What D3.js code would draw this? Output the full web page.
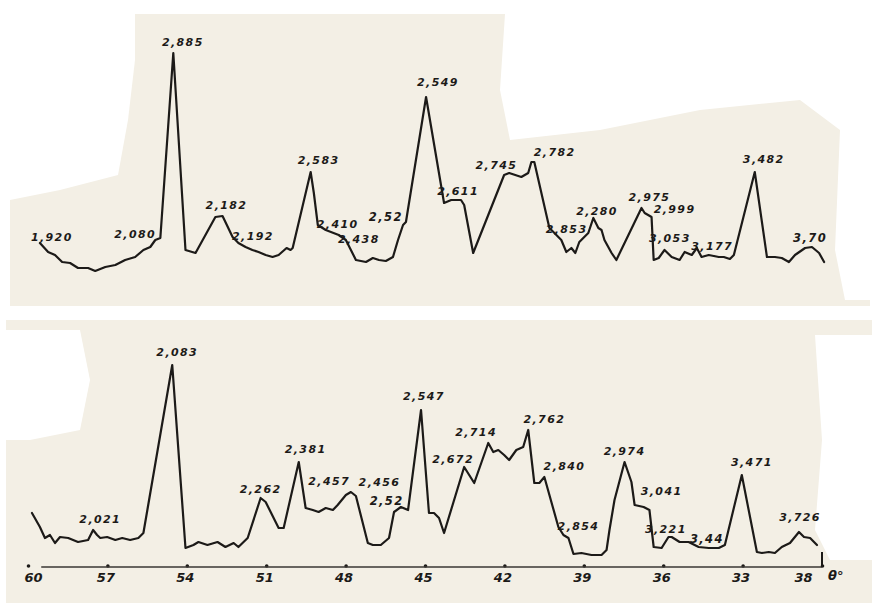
<!DOCTYPE html>
<html>
<head>
<meta charset="utf-8">
<script src="https://cdn.jsdelivr.net/npm/d3@7/dist/d3.min.js"></script>
<style>
  html, body { margin: 0; padding: 0; background: #ffffff; }
  svg { display: block; }
</style>
</head>
<body>
<svg id="chart" width="874" height="603"></svg>
<script>
// ---------- DATA (θ in degrees, intensity in arbitrary units) ----------
const topTheta = [59.55,59.24,58.98,58.71,58.41,58.11,57.73,57.46,57.08,56.70,56.33,55.95,55.64,55.38,55.19,55.00,54.51,54.05,53.67,52.92,52.65,52.27,52.05,51.78,51.52,51.29,51.02,50.76,50.53,50.23,50.08,50.00,49.32,49.20,49.05,48.75,48.26,47.99,47.80,47.61,47.23,46.97,46.74,46.48,46.21,46.02,45.83,45.72,44.96,44.28,44.01,43.64,43.52,43.18,42.01,41.82,41.36,41.10,40.98,40.87,40.30,40.11,39.85,39.66,39.47,39.32,39.17,38.83,38.64,38.45,38.33,38.22,37.95,37.77,36.82,36.70,36.44,36.36,36.17,35.95,35.68,35.38,35.19,34.92,34.73,34.55,34.28,33.90,33.71,33.48,33.33,32.54,32.08,31.78,31.52,31.25,31.02,30.64,30.38,30.11,29.92];
const topIntensity = [37,28,25,18,17,12,12,9,13,15,20,23,30,33,40,42,227,30,27,63,64,43,37,33,30,28,25,23,25,32,30,32,108,87,55,50,45,40,30,20,18,22,20,19,23,40,55,58,183,77,80,80,75,27,105,107,103,107,118,118,52,47,40,28,32,27,38,47,62,52,50,40,27,20,72,67,63,20,22,30,23,20,28,25,32,23,25,23,23,21,25,108,23,23,22,18,25,32,33,27,18];

const bottomTheta = [59.85,59.55,59.36,59.17,58.98,58.79,58.48,58.11,57.73,57.54,57.39,57.27,57.01,56.70,56.44,56.14,55.83,55.64,55.49,54.55,54.05,53.75,53.56,53.22,52.84,52.54,52.23,52.05,51.70,51.21,51.02,50.53,50.34,49.77,49.51,49.24,49.02,48.75,48.48,48.30,47.99,47.80,47.61,47.16,46.97,46.67,46.36,46.17,45.91,45.64,45.15,44.85,44.66,44.47,44.28,43.52,43.14,42.61,42.42,42.23,42.01,41.82,41.55,41.29,41.10,40.87,40.68,40.49,39.96,39.77,39.58,39.39,39.09,38.71,38.33,38.14,38.03,37.84,37.46,37.20,37.08,36.74,36.52,36.36,36.06,35.80,35.68,35.38,35.04,34.66,34.28,33.90,33.67,33.03,32.46,32.27,32.01,31.78,31.52,31.21,30.87,30.68,30.45,30.19];
const bottomIntensity = [52,38,27,30,22,28,27,23,25,35,30,27,28,25,27,25,27,32,55,200,17,20,23,20,23,18,22,18,27,67,63,37,37,103,57,55,53,57,55,60,70,73,69,22,20,20,27,53,58,55,155,52,52,47,32,98,82,122,113,115,110,105,115,118,135,82,82,88,38,30,27,11,12,10,10,15,35,65,103,83,60,58,55,18,17,28,28,23,23,18,17,17,20,90,13,12,13,12,18,22,33,28,27,20];

const topLabels = ["1,920","2,080","2,885","2,182","2,192","2,583","2,410","2,438","2,52","2,549","2,611","2,745","2,782","2,853","2,280","2,975","2,999","3,053","3,177","3,482","3,70"];
const topLabelTheta = [59.10,55.95,54.15,52.50,51.50,49.02,48.30,47.50,46.48,44.51,43.75,42.30,40.10,39.65,38.50,36.52,35.57,35.75,34.15,32.20,30.45];
const topLabelIntensity = [42,45,237,74,43,119,55,40,63,197,88,114,127,50,68,82,70,41,33,120,42];

const bottomLabels = ["2,021","2,083","2,262","2,381","2,457","2,456","2,52","2,547","2,672","2,714","2,762","2,840","2,854","2,974","3,041","3,221","3,44","3,471","3,726"];
const bottomLabelTheta = [57.27,54.36,51.21,49.51,48.62,46.72,46.45,45.04,43.94,43.07,40.49,39.73,39.20,37.46,36.06,35.90,34.35,32.65,30.83];
const bottomLabelIntensity = [45,212,75,115,83,82,64,168,105,132,145,98,38,113,73,35,26,102,47];

const tickValues = [60,57,54,51,48,45,42,39,36,33,30];
const tickLabels = ["60","57","54","51","48","45","42","39","36","33","38"];
const axisUnit = "θ°";

// ---------- DRAWING ----------
const svg = d3.select("#chart");
const W = 874, H = 603;

// scanned paper background
svg.append("rect").attr("x",0).attr("y",0).attr("width",W).attr("height",H).attr("fill","#ffffff");
svg.append("rect").attr("x",10).attr("y",14).attr("width",860).attr("height",292).attr("fill","#f3efe5");
svg.append("rect").attr("x",6).attr("y",320).attr("width",866).attr("height",283).attr("fill","#f3efe5");
// white scan artefacts
const whites = [
  "M10,14 L135,14 L135,60 L128,120 L118,175 L60,190 L10,200 Z",
  "M505,14 L870,14 L870,300 L845,300 L835,250 L840,130 L800,100 L700,110 L600,130 L510,140 L500,90 Z",
  "M6,330 L80,330 L90,380 L80,430 L30,440 L6,440 Z",
  "M815,335 L872,335 L872,560 L830,560 L815,530 L822,440 Z"
];
svg.selectAll("path.white").data(whites).join("path").attr("class","white")
  .attr("d", d => d).attr("fill", "#ffffff");

const x = d3.scaleLinear().domain([60, 30]).range([28, 822]);
const yTop = d3.scaleLinear().domain([0, 230]).range([280, 50]);
const yBot = d3.scaleLinear().domain([0, 230]).range([565, 335]);

const ink = "#1c1a18";

function drawTrace(thetas, ints, yScale) {
  const pts = thetas.map((t, i) => [t, ints[i]]);
  const line = d3.line().x(d => x(d[0])).y(d => yScale(d[1]));
  svg.append("path").datum(pts)
    .attr("d", line)
    .attr("fill", "none")
    .attr("stroke", ink)
    .attr("stroke-width", 2.2)
    .attr("stroke-linejoin", "round")
    .attr("stroke-linecap", "round");
}
drawTrace(topTheta, topIntensity, yTop);
drawTrace(bottomTheta, bottomIntensity, yBot);

function drawLabels(texts, thetas, ints, yScale) {
  svg.append("g").selectAll("text").data(texts).join("text")
    .attr("x", (d, i) => x(thetas[i]))
    .attr("y", (d, i) => yScale(ints[i]))
    .attr("text-anchor", "middle")
    .attr("dominant-baseline", "middle")
    .attr("font-family", "DejaVu Sans, sans-serif")
    .attr("font-style", "italic")
    .attr("font-weight", "bold")
    .attr("font-size", d => d.length <= 4 ? 11.5 : 11)
    .attr("letter-spacing", 1.4)
    .attr("fill", ink)
    .text(d => d);
}
drawLabels(topLabels, topLabelTheta, topLabelIntensity, yTop);
drawLabels(bottomLabels, bottomLabelTheta, bottomLabelIntensity, yBot);

// axis
const axisY = 567;
const axis = d3.axisBottom(x).tickValues(tickValues).tickSize(0)
  .tickFormat((d, i) => tickLabels[i]);
const gAxis = svg.append("g").attr("transform", `translate(0,${axisY})`).call(axis);
gAxis.select(".domain").remove();
gAxis.append("line").attr("x1", x(59.5)).attr("x2", x(30)).attr("y1", 0).attr("y2", 0)
  .attr("stroke", "#3a3733").attr("stroke-width", 1.6);
gAxis.append("line").attr("x1", x(30)).attr("x2", x(30)).attr("y1", 0).attr("y2", -15)
  .attr("stroke", ink).attr("stroke-width", 2);
gAxis.selectAll(".tick").append("circle").attr("r", 1.8).attr("cy", -1).attr("fill", ink);
gAxis.selectAll(".tick text")
  .attr("y", 10)
  .attr("dy", "0.35em")
  .attr("font-family", "DejaVu Sans, sans-serif")
  .attr("font-style", "italic")
  .attr("font-weight", "bold")
  .attr("font-size", 13)
  .attr("fill", ink)
  .attr("text-anchor", (d, i) => i === tickValues.length - 1 ? "end" : "middle")
  .attr("dx", (d, i) => i === 0 ? 5 : (i === tickValues.length - 1 ? -10 : -2));
svg.append("text")
  .attr("x", x(30) + 6).attr("y", axisY + 13)
  .attr("font-family", "DejaVu Sans, sans-serif")
  .attr("font-style", "italic")
  .attr("font-weight", "bold")
  .attr("font-size", 13)
  .attr("fill", ink)
  .text(axisUnit);
</script>
</body>
</html>
